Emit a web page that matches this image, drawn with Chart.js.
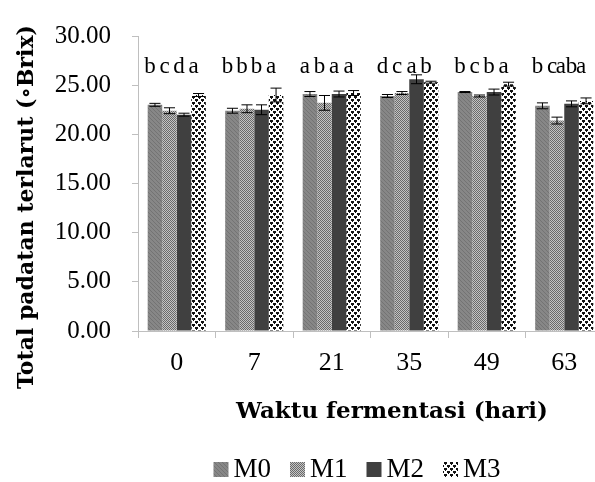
<!DOCTYPE html>
<html>
<head>
<meta charset="utf-8">
<script src="https://cdn.jsdelivr.net/npm/chart.js@4/dist/chart.umd.min.js"></script>
<style>
  html, body { margin: 0; padding: 0; overflow: hidden; background: #fff; }
  #wrap { width: 610px; height: 482px; }
</style>
</head>
<body>
<div id="wrap"><canvas id="brixChart"></canvas></div>
<script>
// fermentation days and series
const days = ['0', '7', '21', '35', '49', '63'];
const seriesNames = ['M0', 'M1', 'M2', 'M3'];
const m0 = [23.0, 22.4, 24.1, 23.9, 24.3, 22.9];
const m1 = [22.4, 22.6, 23.2, 24.2, 23.9, 21.4];
const m2 = [22.0, 22.5, 24.1, 25.6, 24.3, 23.1];
const m3 = [24.0, 24.0, 24.2, 25.3, 25.1, 23.4];
// error bars (+/-)
const m0Err = [0.15, 0.25, 0.25, 0.15, 0.05, 0.3];
const m1Err = [0.3, 0.4, 0.75, 0.15, 0.1, 0.35];
const m2Err = [0.15, 0.5, 0.3, 0.45, 0.3, 0.3];
const m3Err = [0.15, 0.7, 0.25, 0.1, 0.2, 0.3];
// significance letters
const m0Letters = ['b', 'b', 'a', 'd', 'b', 'b'];
const m1Letters = ['c', 'b', 'b', 'c', 'c', 'c'];
const m2Letters = ['d', 'b', 'a', 'a', 'b', 'ab'];
const m3Letters = ['a', 'a', 'a', 'b', 'a', 'a'];
const yMin = 0, yMax = 30, yStep = 5;

const serif = 'Liberation Serif';
const boldSerif = 'DejaVu Serif';

// fill patterns like the original office chart
function makePattern(size, bg, draw) {
  var c = document.createElement('canvas');
  c.width = size; c.height = size;
  var g = c.getContext('2d');
  g.fillStyle = bg;
  g.fillRect(0, 0, size, size);
  draw(g);
  return document.getElementById('brixChart').getContext('2d').createPattern(c, 'repeat');
}

var patM0 = makePattern(4, '#878787', function (g) {
  g.fillStyle = '#737373';
  for (var i = 0; i < 4; i++) g.fillRect(i, i, 1, 1);
});
var patM1 = makePattern(2, '#c4c4c4', function (g) {
  g.fillStyle = '#6a6a6a';
  g.fillRect(0, 0, 1, 1);
  g.fillRect(1, 1, 1, 1);
});
var patM2 = '#404040';
var patM3 = makePattern(6, '#ffffff', function (g) {
  g.fillStyle = '#111';
  g.fillRect(0, 0, 3, 2);
  g.fillRect(3, 3, 3, 2);
  g.fillRect(1, 2, 1, 1);
  g.fillRect(4, 5, 1, 1);
});

const fills = [patM0, patM1, patM2, patM3];
const values = [m0, m1, m2, m3];
const errors = [m0Err, m1Err, m2Err, m3Err];
const letters = [m0Letters, m1Letters, m2Letters, m3Letters];

// error bars + letters over the bars
const barExtras = {
  id: 'barExtras',
  afterDatasetsDraw(chart) {
    var ctx = chart.ctx;
    var y = chart.scales.y;
    ctx.save();
    ctx.strokeStyle = '#000';
    ctx.lineWidth = 1;
    chart.data.datasets.forEach(function (ds, di) {
      var meta = chart.getDatasetMeta(di);
      meta.data.forEach(function (bar, i) {
        var v = values[di][i], e = errors[di][i];
        var top = y.getPixelForValue(v + e), bot = y.getPixelForValue(v - e);
        var cap = bar.width * 0.38;
        ctx.beginPath();
        ctx.moveTo(bar.x, top); ctx.lineTo(bar.x, bot);
        ctx.moveTo(bar.x - cap, top); ctx.lineTo(bar.x + cap, top);
        ctx.moveTo(bar.x - cap, bot); ctx.lineTo(bar.x + cap, bot);
        ctx.stroke();
        ctx.fillStyle = '#000';
        ctx.font = '23px "' + serif + '"';
        ctx.textAlign = 'center';
        ctx.textBaseline = 'alphabetic';
        ctx.fillText(letters[di][i], bar.x - 5, y.getPixelForValue(26.2));
      });
    });
    ctx.restore();
  },
  afterDraw(chart) {
    var ctx = chart.ctx;
    ctx.save();
    ctx.fillStyle = '#000';
    // y title
    ctx.font = 'bold 22px "' + boldSerif + '"';
    ctx.textAlign = 'center';
    ctx.textBaseline = 'middle';
    ctx.translate(27, 207);
    ctx.rotate(-Math.PI / 2);
    ctx.fillText('Total padatan terlarut (\u2218Brix)', 0, 0);
    ctx.restore();
    ctx.save();
    ctx.fillStyle = '#000';
    ctx.font = 'bold 23px "' + boldSerif + '"';
    ctx.textAlign = 'center';
    ctx.textBaseline = 'middle';
    ctx.fillText('Waktu fermentasi (hari)', 392, 412);
    // legend
    ctx.font = '27px "' + serif + '"';
    ctx.textAlign = 'left';
    ctx.textBaseline = 'alphabetic';
    var box = 15, gap = 5, spacing = 19, total = 0;
    var widths = seriesNames.map(function (n) { return ctx.measureText(n).width; });
    widths.forEach(function (w) { total += box + gap + w; });
    total += spacing * (seriesNames.length - 1);
    var x = 357 - total / 2;
    seriesNames.forEach(function (n, i) {
      ctx.fillStyle = fills[i];
      ctx.fillRect(x, 462, box, box);
      ctx.fillStyle = '#000';
      ctx.fillText(n, x + box + gap, 477);
      x += box + gap + widths[i] + spacing;
    });
    ctx.restore();
  }
};

var ctxBrix = document.getElementById('brixChart').getContext('2d');
var brixChart = new Chart(ctxBrix, {
  type: 'bar',
  data: {
    labels: days,
    datasets: seriesNames.map(function (n, i) {
      return {
        label: n,
        data: values[i],
        backgroundColor: fills[i],
        borderWidth: 0,
        categoryPercentage: 0.75,
        barPercentage: 1.0
      };
    })
  },
  options: {
    responsive: true,
    maintainAspectRatio: false,
    animation: false,
    layout: { padding: { top: 33, right: 7, left: 0, bottom: 0 } },
    plugins: {
      legend: { display: false },
      tooltip: { enabled: false }
    },
    scales: {
      x: {
        grid: { drawOnChartArea: false, drawTicks: true, tickLength: 7, color: '#bfbfbf', offset: true },
        border: { color: '#bfbfbf' },
        ticks: { color: '#000', font: { family: serif, size: 26 }, padding: 10 },
        afterFit: function (s) { s.height = 151; }
      },
      y: {
        min: yMin, max: yMax,
        grid: { drawOnChartArea: false, drawTicks: true, tickLength: 6, color: '#bfbfbf' },
        border: { color: '#bfbfbf' },
        ticks: {
          stepSize: yStep, color: '#000', padding: 21,
          font: { family: serif, size: 25 },
          callback: function (v) { return v.toFixed(2); }
        },
        afterFit: function (s) { s.width = 138; }
      }
    }
  },
  plugins: [barExtras]
});
</script>
</body>
</html>
